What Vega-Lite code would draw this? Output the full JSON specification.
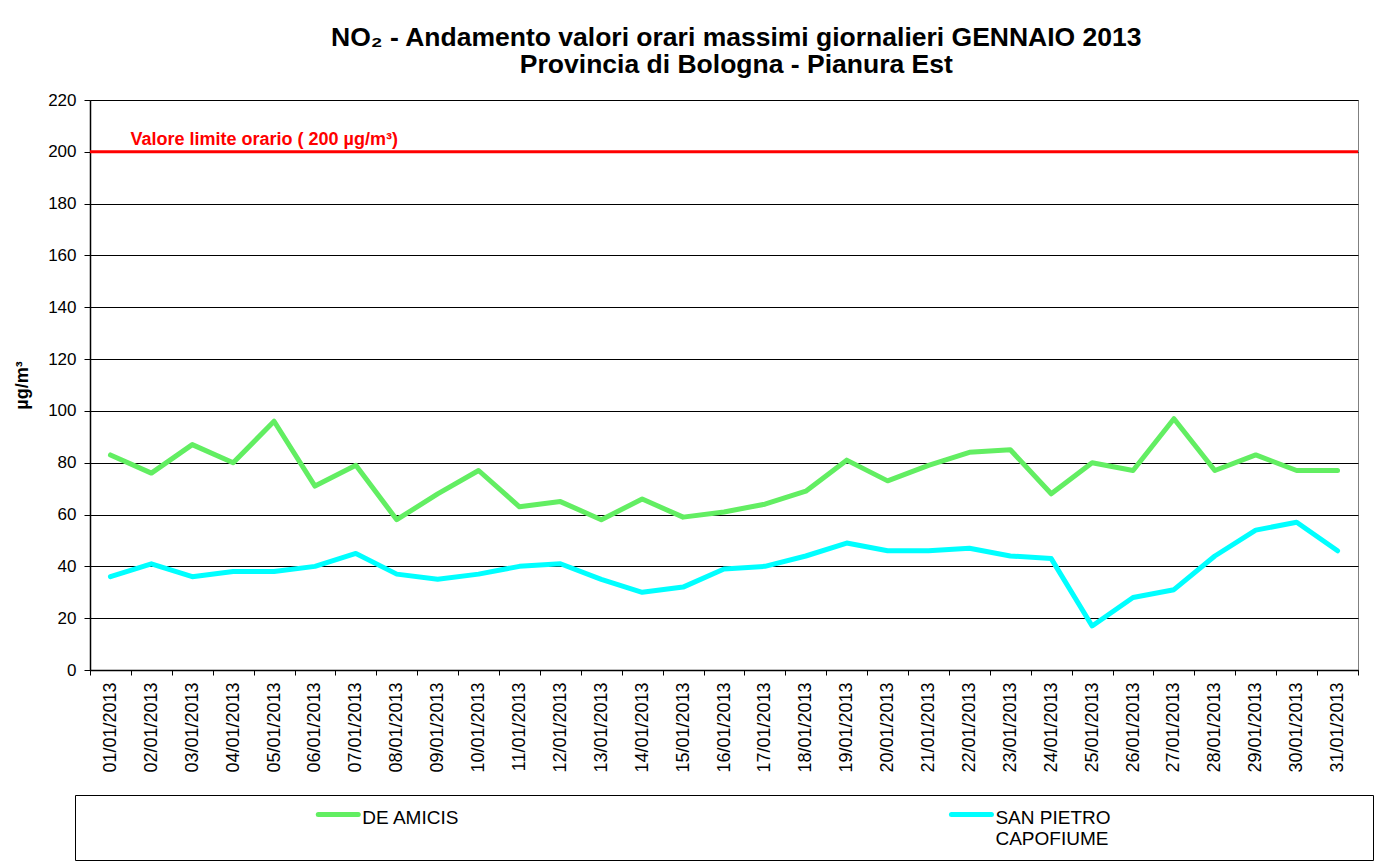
{
  "$schema": "https://vega.github.io/schema/vega-lite/v6.json",
  "autosize": {"type": "pad"},
  "padding": {"left": 13, "top": 25, "right": 0, "bottom": 0},
  "background": "white",
  "config": {
    "font": "Liberation Sans",
    "axis": {"labelFont": "Liberation Sans", "titleFont": "Liberation Sans", "labelColor": "black", "titleColor": "black", "domainColor": "black", "tickColor": "black"}
  },
  "title": {
    "text": ["NO₂ - Andamento valori orari massimi giornalieri GENNAIO 2013", "Provincia di Bologna - Pianura Est"],
    "font": "Liberation Sans",
    "fontSize": 26.5,
    "fontWeight": "bold",
    "color": "black",
    "lineHeight": 27,
    "anchor": "middle",
    "dx": 43,
    "offset": 12
  },
  "datasets": {
    "no2": [
      {"date": "01/01/2013", "station": "DE AMICIS", "value": 83},
      {"date": "02/01/2013", "station": "DE AMICIS", "value": 76},
      {"date": "03/01/2013", "station": "DE AMICIS", "value": 87},
      {"date": "04/01/2013", "station": "DE AMICIS", "value": 80},
      {"date": "05/01/2013", "station": "DE AMICIS", "value": 96},
      {"date": "06/01/2013", "station": "DE AMICIS", "value": 71},
      {"date": "07/01/2013", "station": "DE AMICIS", "value": 79},
      {"date": "08/01/2013", "station": "DE AMICIS", "value": 58},
      {"date": "09/01/2013", "station": "DE AMICIS", "value": 68},
      {"date": "10/01/2013", "station": "DE AMICIS", "value": 77},
      {"date": "11/01/2013", "station": "DE AMICIS", "value": 63},
      {"date": "12/01/2013", "station": "DE AMICIS", "value": 65},
      {"date": "13/01/2013", "station": "DE AMICIS", "value": 58},
      {"date": "14/01/2013", "station": "DE AMICIS", "value": 66},
      {"date": "15/01/2013", "station": "DE AMICIS", "value": 59},
      {"date": "16/01/2013", "station": "DE AMICIS", "value": 61},
      {"date": "17/01/2013", "station": "DE AMICIS", "value": 64},
      {"date": "18/01/2013", "station": "DE AMICIS", "value": 69},
      {"date": "19/01/2013", "station": "DE AMICIS", "value": 81},
      {"date": "20/01/2013", "station": "DE AMICIS", "value": 73},
      {"date": "21/01/2013", "station": "DE AMICIS", "value": 79},
      {"date": "22/01/2013", "station": "DE AMICIS", "value": 84},
      {"date": "23/01/2013", "station": "DE AMICIS", "value": 85},
      {"date": "24/01/2013", "station": "DE AMICIS", "value": 68},
      {"date": "25/01/2013", "station": "DE AMICIS", "value": 80},
      {"date": "26/01/2013", "station": "DE AMICIS", "value": 77},
      {"date": "27/01/2013", "station": "DE AMICIS", "value": 97},
      {"date": "28/01/2013", "station": "DE AMICIS", "value": 77},
      {"date": "29/01/2013", "station": "DE AMICIS", "value": 83},
      {"date": "30/01/2013", "station": "DE AMICIS", "value": 77},
      {"date": "31/01/2013", "station": "DE AMICIS", "value": 77},
      {"date": "01/01/2013", "station": "SAN PIETRO CAPOFIUME", "value": 36},
      {"date": "02/01/2013", "station": "SAN PIETRO CAPOFIUME", "value": 41},
      {"date": "03/01/2013", "station": "SAN PIETRO CAPOFIUME", "value": 36},
      {"date": "04/01/2013", "station": "SAN PIETRO CAPOFIUME", "value": 38},
      {"date": "05/01/2013", "station": "SAN PIETRO CAPOFIUME", "value": 38},
      {"date": "06/01/2013", "station": "SAN PIETRO CAPOFIUME", "value": 40},
      {"date": "07/01/2013", "station": "SAN PIETRO CAPOFIUME", "value": 45},
      {"date": "08/01/2013", "station": "SAN PIETRO CAPOFIUME", "value": 37},
      {"date": "09/01/2013", "station": "SAN PIETRO CAPOFIUME", "value": 35},
      {"date": "10/01/2013", "station": "SAN PIETRO CAPOFIUME", "value": 37},
      {"date": "11/01/2013", "station": "SAN PIETRO CAPOFIUME", "value": 40},
      {"date": "12/01/2013", "station": "SAN PIETRO CAPOFIUME", "value": 41},
      {"date": "13/01/2013", "station": "SAN PIETRO CAPOFIUME", "value": 35},
      {"date": "14/01/2013", "station": "SAN PIETRO CAPOFIUME", "value": 30},
      {"date": "15/01/2013", "station": "SAN PIETRO CAPOFIUME", "value": 32},
      {"date": "16/01/2013", "station": "SAN PIETRO CAPOFIUME", "value": 39},
      {"date": "17/01/2013", "station": "SAN PIETRO CAPOFIUME", "value": 40},
      {"date": "18/01/2013", "station": "SAN PIETRO CAPOFIUME", "value": 44},
      {"date": "19/01/2013", "station": "SAN PIETRO CAPOFIUME", "value": 49},
      {"date": "20/01/2013", "station": "SAN PIETRO CAPOFIUME", "value": 46},
      {"date": "21/01/2013", "station": "SAN PIETRO CAPOFIUME", "value": 46},
      {"date": "22/01/2013", "station": "SAN PIETRO CAPOFIUME", "value": 47},
      {"date": "23/01/2013", "station": "SAN PIETRO CAPOFIUME", "value": 44},
      {"date": "24/01/2013", "station": "SAN PIETRO CAPOFIUME", "value": 43},
      {"date": "25/01/2013", "station": "SAN PIETRO CAPOFIUME", "value": 17},
      {"date": "26/01/2013", "station": "SAN PIETRO CAPOFIUME", "value": 28},
      {"date": "27/01/2013", "station": "SAN PIETRO CAPOFIUME", "value": 31},
      {"date": "28/01/2013", "station": "SAN PIETRO CAPOFIUME", "value": 44},
      {"date": "29/01/2013", "station": "SAN PIETRO CAPOFIUME", "value": 54},
      {"date": "30/01/2013", "station": "SAN PIETRO CAPOFIUME", "value": 57},
      {"date": "31/01/2013", "station": "SAN PIETRO CAPOFIUME", "value": 46}
    ],
    "limit": [
      {"limit": 200, "date": "01/01/2013", "label": "Valore limite orario ( 200 µg/m³)"}
    ],
    "legend": [
      {"station": "DE AMICIS", "label": "DE AMICIS"},
      {"station": "SAN PIETRO CAPOFIUME", "label": "SAN PIETRO\nCAPOFIUME"}
    ]
  },
  "vconcat": [
    {
      "width": 1268,
      "height": 570,
      "view": {"stroke": "#808080", "strokeWidth": 1},
      "layer": [
        {
          "data": {"name": "no2"},
          "mark": {"type": "line", "strokeWidth": 5, "strokeJoin": "round", "strokeCap": "round"},
          "encoding": {
            "x": {
              "field": "date",
              "type": "ordinal",
              "title": null,
              "scale": {"paddingInner": 0, "paddingOuter": 0},
              "axis": {
                "labelAngle": -90,
                "labelAlign": "right",
                "labelBaseline": "middle",
                "labelFontSize": 18,
                "labelPadding": 7,
                "tickBand": "extent",
                "tickSize": 5,
                "domainWidth": 1.5,
                "grid": false
              }
            },
            "y": {
              "field": "value",
              "type": "quantitative",
              "scale": {"domain": [0, 220], "nice": false, "zero": true},
              "title": "µg/m³",
              "axis": {
                "values": [0, 20, 40, 60, 80, 100, 120, 140, 160, 180, 200, 220],
                "grid": true,
                "gridColor": "black",
                "gridWidth": 1,
                "gridOpacity": 1,
                "tickSize": 6,
                "labelFontSize": 17,
                "labelPadding": 8,
                "titleFontSize": 18,
                "titleFontWeight": "bold",
                "titlePadding": 16,
                "domainWidth": 1.5
              }
            },
            "color": {
              "field": "station",
              "type": "nominal",
              "scale": {"domain": ["DE AMICIS", "SAN PIETRO CAPOFIUME"], "range": ["#62EE62", "#00FFFF"]},
              "legend": null
            }
          }
        },
        {
          "data": {"name": "limit"},
          "mark": {"type": "rule", "color": "#FF0000", "strokeWidth": 3},
          "encoding": {
            "y": {"field": "limit", "type": "quantitative"}
          }
        },
        {
          "data": {"name": "limit"},
          "mark": {"type": "text", "color": "#FF0000", "fontSize": 18, "fontWeight": "bold", "align": "left", "baseline": "alphabetic", "dx": 20, "dy": -7},
          "encoding": {
            "y": {"field": "limit", "type": "quantitative"},
            "x": {"field": "date", "type": "ordinal"},
            "text": {"field": "label"}
          }
        }
      ]
    },
    {
      "width": 1298,
      "height": 65,
      "view": {"stroke": "black", "strokeWidth": 1},
      "data": {"name": "legend"},
      "encoding": {
        "x": {
          "field": "station",
          "type": "nominal",
          "scale": {"type": "point", "padding": 0.525, "align": 0.396},
          "axis": null
        }
      },
      "layer": [
        {
          "mark": {"type": "point", "shape": "stroke", "size": 1600, "strokeWidth": 5, "strokeCap": "round", "filled": false, "opacity": 1, "yOffset": -13},
          "encoding": {
            "color": {
              "field": "station",
              "type": "nominal",
              "scale": {"domain": ["DE AMICIS", "SAN PIETRO CAPOFIUME"], "range": ["#62EE62", "#00FFFF"]},
              "legend": null
            }
          }
        },
        {
          "mark": {"type": "text", "fontSize": 19, "color": "black", "align": "left", "baseline": "alphabetic", "dx": 24, "dy": -4, "lineBreak": "\n", "lineHeight": 21},
          "encoding": {
            "text": {"field": "label"}
          }
        }
      ]
    }
  ],
  "spacing": 125,
  "bounds": "flush",
  "center": true
}
